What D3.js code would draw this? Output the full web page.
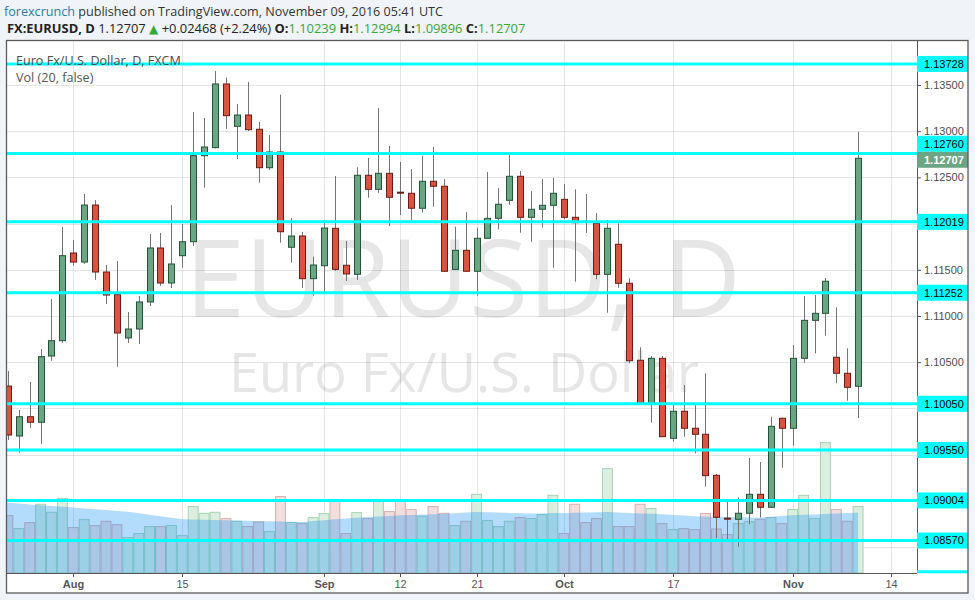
<!DOCTYPE html>
<html><head><meta charset="utf-8">
<script src="https://cdn.jsdelivr.net/npm/d3@7"></script>
<style>
html,body{margin:0;padding:0;background:#f0f3f7;}
svg{display:block;}
</style></head><body>
<svg id="c" width="975" height="600"></svg>
<script>
// ---------- DATA ----------
const dates = [
"2016-07-22","2016-07-25","2016-07-26","2016-07-27","2016-07-28","2016-07-29",
"2016-08-01","2016-08-02","2016-08-03","2016-08-04","2016-08-05",
"2016-08-08","2016-08-09","2016-08-10","2016-08-11","2016-08-12",
"2016-08-15","2016-08-16","2016-08-17","2016-08-18","2016-08-19",
"2016-08-22","2016-08-23","2016-08-24","2016-08-25","2016-08-26",
"2016-08-29","2016-08-30","2016-08-31",
"2016-09-01","2016-09-02","2016-09-05","2016-09-06","2016-09-07","2016-09-08","2016-09-09",
"2016-09-12","2016-09-13","2016-09-14","2016-09-15","2016-09-16",
"2016-09-19","2016-09-20","2016-09-21","2016-09-22","2016-09-23",
"2016-09-26","2016-09-27","2016-09-28","2016-09-29","2016-09-30",
"2016-10-03","2016-10-04","2016-10-05","2016-10-06","2016-10-07",
"2016-10-10","2016-10-11","2016-10-12","2016-10-13","2016-10-14",
"2016-10-17","2016-10-18","2016-10-19","2016-10-20","2016-10-21",
"2016-10-24","2016-10-25","2016-10-26","2016-10-27","2016-10-28",
"2016-10-31","2016-11-01","2016-11-02","2016-11-03","2016-11-04",
"2016-11-07","2016-11-08","2016-11-09"];
const futureDates = ["2016-11-10","2016-11-11","2016-11-14"];

const open = [1.10242,1.09701,1.09910,1.09850,1.10567,1.10733,1.11682,1.11584,1.12201,1.11476,
1.11231,1.10762,1.10859,1.11152,1.11736,1.11357,1.11653,1.11804,1.12735,1.12822,
1.13511,1.13053,1.13175,1.13021,1.12605,1.12775,1.11744,1.11866,1.11404,1.11544,
1.11949,1.11549,1.11451,1.12523,1.12371,1.12544,1.12340,1.12328,1.12166,1.12458,
1.12404,1.11505,1.11711,1.11484,1.11841,1.12057,1.12252,1.12512,1.12068,1.12155,
1.12198,1.12263,1.12068,1.12025,1.12003,1.11451,1.11776,1.11354,1.10521,1.10055,
1.10542,1.09676,1.09969,1.09785,1.09720,1.09276,1.08812,1.08800,1.08865,1.09070,
1.08930,1.09893,1.09785,1.10542,1.10953,1.11029,1.10553,1.10380,1.10239];
const high = [1.10405,1.09983,1.10286,1.10643,1.11184,1.11963,1.11823,1.12320,1.12255,1.11552,
1.11595,1.11043,1.11216,1.11887,1.11898,1.12201,1.11996,1.13208,1.13143,1.13652,
1.13579,1.13295,1.13533,1.13100,1.12959,1.13395,1.12061,1.11909,1.11642,1.12039,
1.12515,1.11812,1.12609,1.12710,1.13251,1.12840,1.12667,1.12591,1.12735,1.12829,
1.12483,1.11966,1.12126,1.11956,1.12559,1.12385,1.12775,1.12569,1.12353,1.12483,
1.12494,1.12429,1.12371,1.12320,1.12115,1.12039,1.12003,1.11408,1.10661,1.10567,
1.10567,1.10055,1.10253,1.10037,1.10380,1.09290,1.08990,1.09038,1.09463,1.09420,
1.09910,1.09900,1.10686,1.11216,1.11227,1.11411,1.11094,1.10650,1.12994];
const low = [1.09658,1.09520,1.09788,1.09615,1.10516,1.10711,1.11544,1.11563,1.11390,1.11130,
1.10451,1.10708,1.10697,1.11108,1.11325,1.11303,1.11523,1.11758,1.12389,1.12813,
1.13024,1.12699,1.13002,1.12443,1.12580,1.11793,1.11577,1.11303,1.11220,1.11263,
1.11487,1.11379,1.11390,1.12280,1.12334,1.11974,1.12093,1.12031,1.12118,1.12183,
1.11480,1.11500,1.11480,1.11220,1.11838,1.11938,1.12201,1.11902,1.11804,1.11956,
1.11523,1.12047,1.11371,1.11898,1.11397,1.11036,1.11306,1.10488,1.10037,1.09845,
1.09690,1.09640,1.09694,1.09514,1.09153,1.08597,1.08586,1.08503,1.08746,1.08821,
1.08925,1.09358,1.09596,1.10495,1.10596,1.10787,1.10272,1.10083,1.09896];
const close = [1.09712,1.09910,1.09850,1.10560,1.10733,1.11653,1.11584,1.12201,1.11476,1.11227,
1.10816,1.10859,1.11152,1.11736,1.11357,1.11563,1.11804,1.12735,1.12829,1.13511,
1.13168,1.13175,1.13016,1.12605,1.12775,1.11912,1.11866,1.11404,1.11552,1.11952,
1.11505,1.11455,1.12523,1.12371,1.12544,1.12285,1.12330,1.12166,1.12458,1.12404,
1.11484,1.11711,1.11484,1.11841,1.12057,1.12209,1.12512,1.12068,1.12155,1.12198,
1.12328,1.12068,1.12010,1.12015,1.11451,1.11949,1.11354,1.10516,1.10055,1.10542,
1.09694,1.09969,1.09785,1.09720,1.09272,1.08821,1.08802,1.08865,1.09070,1.08930,
1.09806,1.09785,1.10542,1.10953,1.11029,1.11376,1.10380,1.10228,1.12707];
const volume = [57400,44400,50400,68700,60700,74700,45400,53400,47400,51700,
48400,35400,39400,46400,46400,47400,37400,66400,59700,60700,
54400,51700,46400,51000,41400,76400,50400,49400,55400,59400,
73400,39400,60400,54400,73400,61400,73400,63400,56700,66400,
59700,47400,51700,78700,52400,46400,51700,55400,54400,58400,
77700,39400,68700,50400,54400,104400,46400,46400,68700,64400,
49400,43400,44400,43400,59400,44000,38400,49400,51400,53700,
55400,49400,63400,77700,54400,130400,63400,51700,66400];
const volumeMA = [70200,69400,68600,67800,67000,66200,65400,64500,63700,62900,
62000,61200,59700,58200,56700,55200,53700,53400,53200,52900,
52700,52400,52200,51900,51700,51500,51200,51000,51900,52800,
53700,54500,55200,56000,56600,57100,57700,58100,58500,58800,
59200,59800,60400,61000,60700,60400,60000,59700,59400,59600,
59900,60100,60300,60500,60800,61000,60500,60100,59600,59200,
58700,58000,57400,56700,56500,56300,56100,55800,55600,55400,
56200,56900,57700,58200,58600,59100,59500,60000,60200];

const priceTicks = [1.085,1.09,1.095,1.10,1.105,1.11,1.115,1.12,1.125,1.13,1.135];
const levels = [1.13728,1.12760,1.12019,1.11252,1.10050,1.09550,1.09004,1.08570];
const lastPrice = 1.12707;
const xTickDates = ["2016-08-01","2016-08-15","2016-09-01","2016-09-12","2016-09-21","2016-10-03","2016-10-17","2016-11-01","2016-11-14"];
const xTickLabels = ["Aug","15","Sep","12","21","Oct","17","Nov","14"];
const xTickIsMonth = [true,false,true,false,false,true,false,true,false];

// ---------- LAYOUT ----------
const L=7, R=917, T=41, B=573, AX=968, BOT=593;
const svg = d3.select("#c");
const axisDates = dates.concat(futureDates);
const step = 10.9;
const x = d3.scaleLinear().domain([0, axisDates.length-1]).range([7.9, 7.9 + step*(axisDates.length-1)]);
const y = d3.scaleLinear().domain([1.082186, 1.139762]).range([B, T]);
const yv = d3.scaleLinear().domain([0, 140000]).range([B, B-140]);

const GREEN="#6ba583", GREEN_S="#225437", RED="#d75442", RED_S="#6f1a12";

// background
svg.append("rect").attr("width",975).attr("height",600).attr("fill","#f0f3f7");
svg.append("rect").attr("x",L).attr("y",T).attr("width",AX-L).attr("height",BOT-T).attr("fill","#fff");

// header
const h1 = svg.append("text").attr("x",4).attr("y",16).attr("font-family","'Open Sans',sans-serif").attr("font-size",12.6);
h1.append("tspan").attr("fill","#2a7ab0").text("forexcrunch");
h1.append("tspan").attr("fill","#333").text(" published on TradingView.com, November 09, 2016 05:41 UTC");

const h2 = svg.append("text").attr("x",7).attr("y",33).attr("font-family","'Open Sans',sans-serif").attr("font-size",12.9).attr("fill","#222");
const G="#3aa63a";
h2.append("tspan").attr("font-weight","bold").text("FX:EURUSD, D");
h2.append("tspan").text(" " + d3.format(".5f")(lastPrice) + " ");
h2.append("tspan").attr("fill",G).attr("font-family","'DejaVu Sans'").attr("font-size",12).text("▲");
h2.append("tspan").text(" +0.02468 (+2.24%) ");
[["O:",open[78]],["H:",high[78]],["L:",low[78]],["C:",close[78]]].forEach(([k,v],i)=>{
  h2.append("tspan").attr("font-weight","bold").text((i? " ":"")+k);
  h2.append("tspan").attr("fill",G).text(d3.format(".5f")(v));
});

// clip
svg.append("defs").append("clipPath").attr("id","plot").append("rect")
  .attr("x",L).attr("y",T).attr("width",R-L).attr("height",B-T);
const plot = svg.append("g").attr("clip-path","url(#plot)");

// watermark
plot.append("text").attr("x",463).attr("y",317).attr("text-anchor","middle")
  .attr("font-family","'Open Sans',sans-serif").attr("font-size",108).attr("fill","#e6e6e6").text("EURUSD, D");
plot.append("text").attr("x",464).attr("y",392).attr("text-anchor","middle")
  .attr("font-family","'Open Sans',sans-serif").attr("font-size",54).attr("fill","#e6e6e6").text("Euro Fx/U.S. Dollar");

// grid
const tickIdx = xTickDates.map(d=>axisDates.indexOf(d));
plot.append("g").selectAll("line").data(priceTicks).join("line")
  .attr("x1",L).attr("x2",R).attr("y1",d=>Math.round(y(d))+0.5).attr("y2",d=>Math.round(y(d))+0.5)
  .attr("stroke","rgba(0,0,0,0.1)");
plot.append("g").selectAll("line").data(tickIdx).join("line")
  .attr("y1",T).attr("y2",B).attr("x1",d=>Math.round(x(d))+0.5).attr("x2",d=>Math.round(x(d))+0.5)
  .attr("stroke","rgba(0,0,0,0.1)");

// volume
const idx = d3.range(dates.length);
const up = i => close[i] >= open[i];
plot.append("g").selectAll("rect").data(idx).join("rect")
  .attr("x",i=>x(i)-step/2+0.5).attr("width",step-1)
  .attr("y",i=>yv(volume[i])).attr("height",i=>yv(0)-yv(volume[i]))
  .attr("fill",i=>up(i)?"#dbeedf":"#f1dfdf")
  .attr("stroke",i=>up(i)?"#a6d3b3":"#d9afaf").attr("stroke-width",1);
plot.append("path").datum([-1].concat(idx))
  .attr("d",d3.area().x(i=>x(Math.max(i,0)) - (i<0?step:0)).y0(yv(0)).y1(i=>yv(volumeMA[Math.max(i,0)])))
  .attr("fill","rgba(33,150,243,0.34)");

// legend
svg.append("text").attr("x",16).attr("y",65).attr("font-family","'Open Sans',sans-serif").attr("font-size",12.6)
  .attr("fill","#4a4a4a").text("Euro Fx/U.S. Dollar, D, FXCM");
svg.append("text").attr("x",16).attr("y",82).attr("font-family","'Open Sans',sans-serif").attr("font-size",12.6)
  .attr("fill","#555").text("Vol (20, false)");

// candles
const cx = i => Math.round(x(i));
plot.append("g").selectAll("line").data(idx).join("line")
  .attr("x1",i=>cx(i)+0.5).attr("x2",i=>cx(i)+0.5)
  .attr("y1",i=>y(high[i])).attr("y2",i=>y(low[i]))
  .attr("stroke","#737375").attr("stroke-width",1);
plot.append("g").selectAll("rect").data(idx).join("rect")
  .attr("x",i=>cx(i)-2.5).attr("width",6)
  .attr("y",i=>y(Math.max(open[i],close[i])))
  .attr("height",i=>Math.max(1, Math.abs(y(open[i])-y(close[i]))))
  .attr("fill",i=>up(i)?GREEN:RED).attr("stroke",i=>up(i)?GREEN_S:RED_S).attr("stroke-width",1);

// level lines
plot.append("g").selectAll("line").data(levels).join("line")
  .attr("x1",L).attr("x2",R).attr("y1",d=>y(d)).attr("y2",d=>y(d))
  .attr("stroke","#00ffff").attr("stroke-width",3);

// frame lines
svg.append("line").attr("x1",L).attr("x2",R).attr("y1",B+0.5).attr("y2",B+0.5).attr("stroke","#555");

// level label positions (current price label pushes the nearest one up)
const curY = y(lastPrice) + 1.5;
const labY = levels.map(v=>{ let yy=y(v); if (Math.abs(yy-curY)<16) yy = curY-16; return yy; });
const occupied = labY.concat([curY]);

// price axis (tick labels hidden where a level label covers them)
const ya = svg.append("g").attr("transform",`translate(${R},0)`)
  .call(d3.axisRight(y).tickValues(priceTicks).tickFormat(d3.format(".5f")).tickSize(4).tickPadding(3));
ya.select(".domain").attr("stroke","#555").attr("d",`M0.5,${T}V${B}`);
ya.selectAll(".tick line").attr("stroke","#555");
ya.selectAll("text").attr("font-family","'Liberation Sans',Arial,sans-serif").attr("font-size",11).attr("fill","#4d4d4d")
  .style("display",d=>occupied.some(o=>Math.abs(o-y(d))<9)?"none":null);

// bottom cyan segment on price axis
svg.append("line").attr("x1",R).attr("x2",AX).attr("y1",571.7).attr("y2",571.7).attr("stroke","#00ffff").attr("stroke-width",3);

// level labels
const lg = svg.append("g");
levels.forEach((v,i)=>{
  lg.append("rect").attr("x",R).attr("y",labY[i]-8).attr("width",AX-R).attr("height",16).attr("fill","#00ffff");
  lg.append("text").attr("x",R+7).attr("y",labY[i]).attr("dy","0.35em")
    .attr("font-family","'Liberation Sans',Arial,sans-serif").attr("font-size",11).attr("fill","#000")
    .text(d3.format(".5f")(v));
});
lg.append("rect").attr("x",R).attr("y",curY-8).attr("width",AX-R).attr("height",16).attr("fill",GREEN);
lg.append("text").attr("x",R+7).attr("y",curY).attr("dy","0.35em")
  .attr("font-family","'Liberation Sans',Arial,sans-serif").attr("font-size",11).attr("font-weight","bold").attr("fill","#fff")
  .text(d3.format(".5f")(lastPrice));

// x axis
const xa = svg.append("g").attr("transform",`translate(0,${B})`)
  .call(d3.axisBottom(x).tickValues(tickIdx).tickFormat((d,i)=>xTickLabels[i]).tickSize(4).tickPadding(3));
xa.select(".domain").remove();
xa.selectAll(".tick").attr("transform",d=>`translate(${Math.round(x(d))+0.5},0)`);
xa.selectAll(".tick line").attr("stroke","#555");
xa.selectAll("text").attr("font-family","'Liberation Sans',Arial,sans-serif").attr("font-size",11).attr("fill","#555")
  .attr("font-weight",(d,i)=>xTickIsMonth[i]?"bold":"normal");

// outer frame
svg.append("rect").attr("x",L-0.5).attr("y",T-0.5).attr("width",AX-L+0.5).attr("height",BOT-T+0.5)
  .attr("fill","none").attr("stroke","#5a5a5a").attr("stroke-width",1.3);
</script>
</body></html>
